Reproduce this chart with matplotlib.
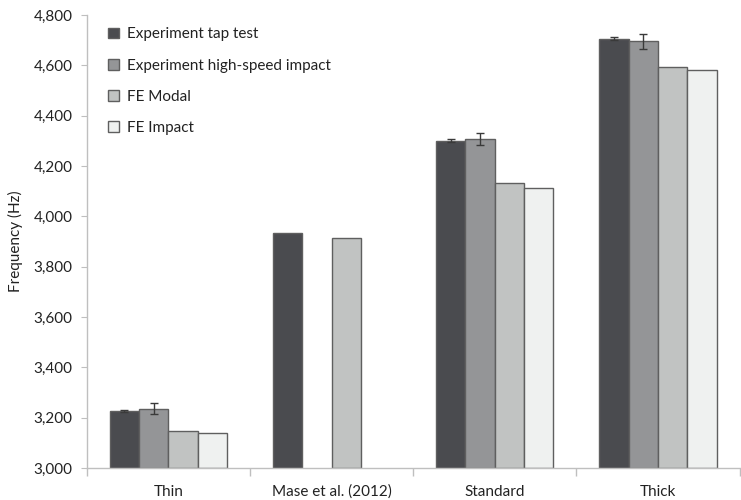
import numpy as np
import matplotlib
matplotlib.use("Agg")
import matplotlib.pyplot as plt

plt.rcParams['font.family'] = ['Lato', 'DejaVu Sans']

categories = ["Thin", "Mase et al. (2012)", "Standard", "Thick"]
series_names = ["Experiment tap test", "Experiment high-speed impact", "FE Modal", "FE Impact"]

tap_test = [3226, 3935, 4301, 4706]
tap_test_err = [4, 0, 5, 6]
high_speed = [3236, np.nan, 4308, 4696]
high_speed_err = [21, 0, 25, 30]
fe_modal = [3146, 3915, 4131, 4592]
fe_impact = [3138, np.nan, 4111, 4580]

colors = ["#4a4b4f", "#949597", "#c1c3c2", "#eff1f0"]   # dark -> light grey

fig = plt.figure(figsize=(7.41, 5.0), dpi=100)
ax = fig.add_axes([0.117, 0.064, 0.881, 0.906])

x = np.arange(len(categories))
w = 0.18
values = [tap_test, high_speed, fe_modal, fe_impact]
errors = [tap_test_err, high_speed_err, None, None]

for i, (vals, err) in enumerate(zip(values, errors)):
    pos = x + (i - 1.5) * w
    ax.bar(pos, np.array(vals) - 3000, width=w, bottom=3000, color=colors[i],
           edgecolor="#5f5f5f", linewidth=1.0, label=series_names[i], zorder=2)
    if err is not None:
        v = np.array(vals, dtype=float)
        e = np.array(err, dtype=float)
        mask = ~np.isnan(v) & (e > 0)
        ax.errorbar(pos[mask], v[mask], yerr=e[mask], fmt="none", ecolor="#3a3a3a",
                    elinewidth=1.0, capsize=3, capthick=1.0, zorder=3)

ax.set_ylim(3000, 4800)
ax.set_xlim(-0.5, 3.5)
ax.set_yticks(np.arange(3000, 4801, 200))
ax.set_yticklabels([f"{v:,}" for v in range(3000, 4801, 200)])
ax.set_xticks(x)
ax.set_xticklabels(categories)
ax.set_xticks(np.arange(-0.5, 3.6, 1), minor=True)
ax.tick_params(axis="x", which="major", length=0, pad=12, labelsize=11, colors="#222222")
ax.tick_params(axis="x", which="minor", length=6, color="#bfbfbf", width=1)
ax.tick_params(axis="y", length=4, labelsize=11, colors="#222222", pad=6)
ax.tick_params(axis="y", color="#bfbfbf")

for s in ["top", "right"]:
    ax.spines[s].set_visible(False)
for s in ["left", "bottom"]:
    ax.spines[s].set_color("#bfbfbf")
    ax.spines[s].set_linewidth(1.0)

ax.set_ylabel("Frequency (Hz)", fontsize=11, color="#222222", labelpad=8)

leg = ax.legend(loc="upper left", bbox_to_anchor=(0.012, 1.003), frameon=False,
                fontsize=11, handlelength=0.7, handleheight=0.7, handletextpad=0.5,
                labelspacing=1.12)
for t in leg.get_texts():
    t.set_color("#222222")

fig.savefig("out.png", dpi=100)
